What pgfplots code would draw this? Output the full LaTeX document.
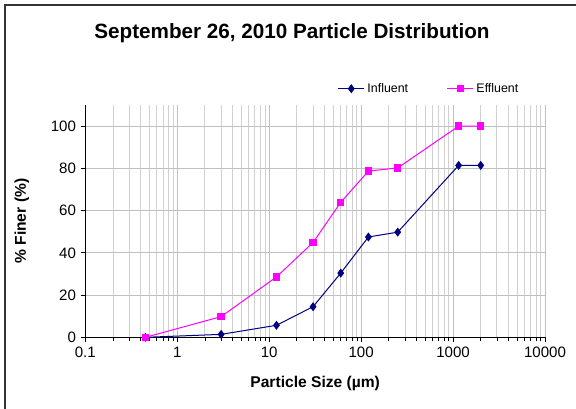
\documentclass[border=0pt]{standalone}
\usepackage{fontspec}
\setmainfont{Liberation Sans}
\usepackage{pgfplots}
\pgfplotsset{compat=1.18}
\definecolor{influent}{RGB}{0,0,128}
\definecolor{effluent}{RGB}{255,0,255}
\definecolor{gridgray}{RGB}{192,192,192}

\begin{document}
\begin{tikzpicture}
\useasboundingbox (-64pt,-53.75pt) rectangle (368pt,253pt);
% chart frame, cut off at right and bottom
\draw[black!80, line width=1.3pt] (-60.25pt,-60pt) -- (-60.25pt,249.25pt) -- (375pt,249.25pt);
\node[font=\bfseries\fontsize{15.5}{18}\selectfont] at (155pt,228pt) {September 26, 2010 Particle Distribution};
\begin{axis}[
    at={(0pt,0pt)}, anchor=south west,
    scale only axis,
    width=344.75pt, height=174.25pt,
    xmode=log, log basis x=10,
    xmin=0.1, xmax=10000,
    ymin=0, ymax=110,
    xtick={0.1,1,10,100,1000,10000},
    xticklabels={0.1,1,10,100,1000,10000},
    minor xtick={0.2,0.3,0.4,0.5,0.6,0.7,0.8,0.9,
                 2,3,4,5,6,7,8,9,
                 20,30,40,50,60,70,80,90,
                 200,300,400,500,600,700,800,900,
                 2000,3000,4000,5000,6000,7000,8000,9000},
    ytick={0,20,40,60,80,100},
    axis x line=bottom, axis y line=left,
    axis line style={-, black, line width=0.8pt},
    tick align=outside,
    major tick length=3.5pt, minor tick length=2.5pt,
    tick style={black, line width=0.6pt},
    xmajorgrids, xminorgrids, ymajorgrids,
    grid style={gridgray, line width=0.7pt},
    minor grid style={gridgray!75, line width=0.7pt},
    ticklabel style={font=\fontsize{11.3}{13}\selectfont},
    /pgf/number format/assume math mode=true,
    xlabel={Particle Size (µm)},
    ylabel={\% Finer (\%)},
    label style={font=\bfseries\fontsize{11.7}{13}\selectfont},
    xlabel style={at={(axis description cs:0.5,-0.2)}, anchor=center},
    ylabel style={at={(axis description cs:-0.138,0.5)}, anchor=center, rotate=0},
    legend columns=2,
    legend style={draw=none, fill=none, at={(axis description cs:0.54,1.07)}, anchor=west,
        font=\fontsize{9.3}{11}\selectfont,
        /tikz/every even column/.append style={column sep=27pt}},
    legend image code/.code={
        \draw[#1, mark repeat=2, mark phase=2] plot coordinates {(0pt,0pt) (9.75pt,0pt) (19.5pt,0pt)};
    },
]
\addplot[influent, line width=0.75pt, mark=diamond*, mark size=2.8pt, mark options={fill=influent}]
coordinates {
(0.45,0) (3,1.4) (12,5.7) (30,14.5) (60,30.4) (120,47.5) (250,49.8) (1150,81.4) (2000,81.4)
};
\addlegendentry{Influent}
\addplot[effluent, line width=0.75pt, mark=square*, mark size=2.4pt, mark options={fill=effluent}]
coordinates {
(0.45,0) (3,9.8) (12,28.6) (30,44.9) (60,63.9) (120,78.7) (250,80.2) (1150,100) (2000,100)
};
\addlegendentry{Effluent}
\end{axis}
\end{tikzpicture}
\end{document}
